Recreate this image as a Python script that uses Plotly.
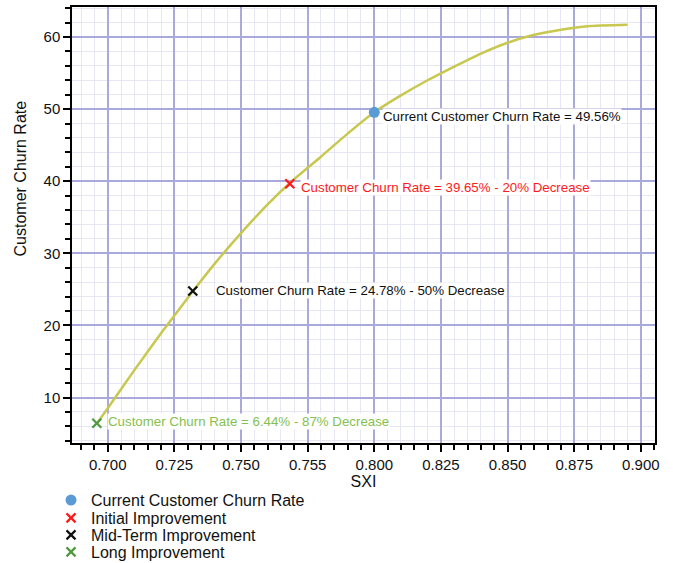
import plotly.graph_objects as go

# Curve data
sxi = [0.696, 0.700, 0.710, 0.720, 0.730, 0.740, 0.750, 0.760, 0.770, 0.780,
       0.790, 0.800, 0.810, 0.820, 0.830, 0.840, 0.850, 0.860, 0.870, 0.880, 0.895]
churn = [6.44, 8.5, 13.8, 18.9, 23.8, 28.5, 32.8, 36.8, 40.3, 43.4,
         46.6, 49.56, 51.9, 54.0, 55.9, 57.7, 59.2, 60.3, 61.0, 61.5, 61.7]

# Highlighted points
point_names = ["Current Customer Churn Rate", "Initial Improvement",
               "Mid-Term Improvement", "Long Improvement"]
point_x = [0.800, 0.7683, 0.7319, 0.6959]
point_y = [49.56, 39.65, 24.78, 6.44]
point_labels = ["Current Customer Churn Rate = 49.56%",
                "Customer Churn Rate = 39.65% - 20% Decrease",
                "Customer Churn Rate = 24.78% - 50% Decrease",
                "Customer Churn Rate = 6.44% - 87% Decrease"]
point_symbols = ["circle", "x-thin", "x-thin", "x-thin"]
point_colors = ["#5b9bd5", "#ff1a1a", "#111111", "#4e9a3c"]
label_colors = ["#111111", "#ff1a1a", "#111111", "#86c04e"]
# label offsets from markers (pixels)
label_dx = [8, 10, 22, 10]
label_dy = [-4, -4, 0, 2]

# Axis ticks
x_tickvals = [0.700, 0.725, 0.750, 0.775, 0.800, 0.825, 0.850, 0.875, 0.900]
x_ticktext = ["0.700", "0.725", "0.750", "0.755", "0.800", "0.825", "0.850", "0.875", "0.900"]
y_tickvals = [10, 20, 30, 40, 50, 60]

FONT = "Arial, Liberation Sans, sans-serif"
MAJOR = "#a9a9dc"
MINOR = "#e6e6f5"

fig = go.Figure()
fig.add_trace(go.Scatter(x=sxi, y=churn, mode="lines",
                         line=dict(color="#c8c850", width=2.5, shape="spline", smoothing=0.6),
                         showlegend=False, hoverinfo="skip"))

legend_ys = [-0.131, -0.172, -0.211, -0.25]
for i in range(len(point_names)):
    lg = "legend" if i == 0 else f"legend{i+1}"
    if point_symbols[i] == "circle":
        mk = dict(symbol="circle", size=11, color=point_colors[i])
    else:
        mk = dict(symbol="x-thin", size=9, color=point_colors[i],
                  line=dict(color=point_colors[i], width=2.2))
    fig.add_trace(go.Scatter(x=[point_x[i]], y=[point_y[i]], mode="markers",
                             marker=mk, name=point_names[i], legend=lg))
    fig.add_annotation(x=point_x[i], y=point_y[i], text=point_labels[i],
                       xanchor="left", yanchor="middle",
                       xshift=label_dx[i], yshift=label_dy[i],
                       showarrow=False, bgcolor="white", borderpad=0,
                       font=dict(family=FONT, size=13.3, color=label_colors[i]))

fig.add_annotation(xref="paper", yref="paper", x=-0.089, y=0.607,
                   text="Customer Churn Rate", textangle=-90, showarrow=False,
                   xanchor="center", yanchor="middle",
                   font=dict(family=FONT, size=16, color="#111111"))

axis_common = dict(showline=True, linecolor="black", linewidth=1.5, mirror=True,
                   ticks="outside", tickcolor="black", ticklen=7, tickwidth=1.5,
                   showgrid=True, gridcolor=MAJOR, gridwidth=1.8, zeroline=False,
                   tickfont=dict(family=FONT, size=15, color="#111111"))

fig.update_xaxes(range=[0.6866, 0.9053], tickmode="array", tickvals=x_tickvals,
                 ticktext=x_ticktext,
                 title=dict(text="SXI", font=dict(family=FONT, size=16, color="#111111"),
                            standoff=4),
                 minor=dict(tickmode="linear", tick0=0.7, dtick=0.005, ticks="outside",
                            ticklen=5, tickcolor="black", tickwidth=1.5,
                            showgrid=True, gridcolor=MINOR, gridwidth=1),
                 **axis_common)
fig.update_yaxes(range=[3.69, 64.16], tickmode="array", tickvals=y_tickvals,
                 minor=dict(tickmode="linear", tick0=0, dtick=2, ticks="outside",
                            ticklen=5, tickcolor="black", tickwidth=1.5,
                            showgrid=True, gridcolor=MINOR, gridwidth=1),
                 **axis_common)

legend_style = dict(x=-0.036, xanchor="left", yanchor="middle", bgcolor="rgba(0,0,0,0)",
                    font=dict(family=FONT, size=16, color="#111111"))
layout_legends = {}
for i in range(len(point_names)):
    key = "legend" if i == 0 else f"legend{i+1}"
    layout_legends[key] = dict(y=legend_ys[i], **legend_style)

fig.update_layout(width=673, height=563,
                  margin=dict(l=72, r=18, t=7, b=120, autoexpand=False),
                  plot_bgcolor="white", paper_bgcolor="white",
                  font=dict(family=FONT), showlegend=True, **layout_legends)

fig.write_html("out.html", config={"displayModeBar": False},
               post_script="document.body.style.margin='0';document.body.style.overflow='hidden';")
